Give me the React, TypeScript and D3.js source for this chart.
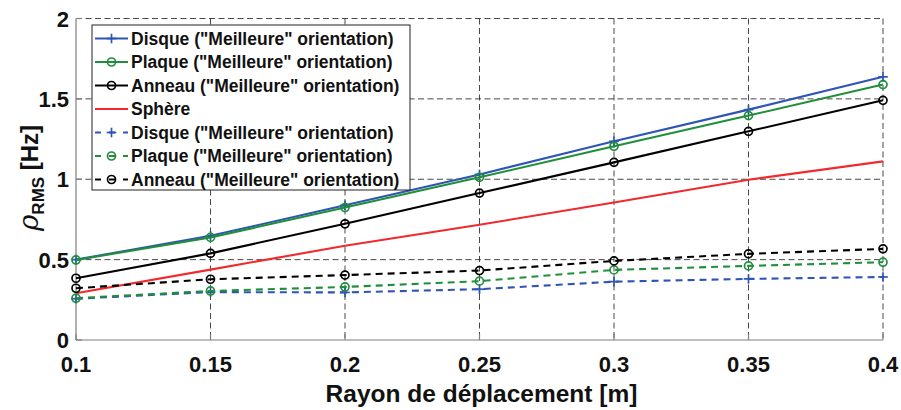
import React from "react";
import * as d3 from "d3";

const xValues = [0.1, 0.15, 0.2, 0.25, 0.3, 0.35, 0.4];
const disqueSolid = [0.5, 0.648, 0.838, 1.03, 1.236, 1.433, 1.637];
const plaqueSolid = [0.498, 0.638, 0.824, 1.012, 1.205, 1.396, 1.589];
const anneauSolid = [0.384, 0.539, 0.723, 0.914, 1.105, 1.298, 1.491];
const sphere = [0.291, 0.438, 0.586, 0.717, 0.855, 0.997, 1.111];
const disqueDashed = [0.257, 0.298, 0.296, 0.316, 0.363, 0.38, 0.392];
const plaqueDashed = [0.26, 0.305, 0.33, 0.366, 0.436, 0.461, 0.484];
const anneauDashed = [0.322, 0.378, 0.404, 0.432, 0.492, 0.536, 0.567];

const xTicks = [0.1, 0.15, 0.2, 0.25, 0.3, 0.35, 0.4];
const yTicks = [0, 0.5, 1, 1.5, 2];

const BLUE = "#2f55b4";
const GREEN = "#1f8f3a";
const RED = "#f02a2d";
const BLACK = "#000000";

type Series = { name: string; values: number[]; color: string; dashed: boolean; marker: "plus" | "circle" | "none" };

const series: Series[] = [
  { name: 'Disque ("Meilleure" orientation)', values: disqueSolid, color: BLUE, dashed: false, marker: "plus" },
  { name: 'Plaque ("Meilleure" orientation)', values: plaqueSolid, color: GREEN, dashed: false, marker: "circle" },
  { name: 'Anneau ("Meilleure" orientation)', values: anneauSolid, color: BLACK, dashed: false, marker: "circle" },
  { name: "Sphère", values: sphere, color: RED, dashed: false, marker: "none" },
  { name: 'Disque ("Meilleure" orientation)', values: disqueDashed, color: BLUE, dashed: true, marker: "plus" },
  { name: 'Plaque ("Meilleure" orientation)', values: plaqueDashed, color: GREEN, dashed: true, marker: "circle" },
  { name: 'Anneau ("Meilleure" orientation)', values: anneauDashed, color: BLACK, dashed: true, marker: "circle" },
];

const W = 901;
const H = 410;
const L = 76, R = 883, T = 18.5, B = 340;

function Marker({ type, x, y, color }: { type: string; x: number; y: number; color: string }) {
  if (type === "plus") {
    return (
      <g stroke={color} strokeWidth={1.7}>
        <line x1={x - 4.8} x2={x + 4.8} y1={y} y2={y} />
        <line x1={x} x2={x} y1={y - 4.8} y2={y + 4.8} />
      </g>
    );
  }
  if (type === "circle") {
    return <circle cx={x} cy={y} r={4} fill="none" stroke={color} strokeWidth={1.7} />;
  }
  return null;
}

export default function App() {
  const x = d3.scaleLinear().domain([0.1, 0.4]).range([L, R]);
  const y = d3.scaleLinear().domain([0, 2]).range([B, T]);
  const line = d3
    .line<number>()
    .x((_, i) => x(xValues[i]))
    .y((d) => y(d));
  const font = "Arial, 'Liberation Sans', sans-serif";
  const legX = 92, legY = 25, legW = 318, legH = 165, legStep = 23.5;

  return (
    <svg width={W} height={H} style={{ position: "absolute", left: 0, top: 0 }} fontFamily={font}>
      <rect width={W} height={H} fill="#fff" />
      {/* grid */}
      <g stroke="#333" strokeWidth={0.9} strokeDasharray="6,3.5">
        {xTicks.slice(1).map((t) => (
          <line key={"gx" + t} x1={x(t)} x2={x(t)} y1={T} y2={B} />
        ))}
        {yTicks.slice(1).map((t) => (
          <line key={"gy" + t} x1={L} x2={R} y1={y(t)} y2={y(t)} />
        ))}
      </g>
      {/* axes */}
      <g stroke="#7f7f7f" strokeWidth={1.2}>
        <line x1={L} x2={L} y1={T} y2={B} />
        <line x1={L} x2={R} y1={B} y2={B} />
        {xTicks.map((t) => (
          <line key={"tx" + t} x1={x(t)} x2={x(t)} y1={B} y2={B - 6} />
        ))}
        {yTicks.map((t) => (
          <line key={"ty" + t} x1={L} x2={L + 6} y1={y(t)} y2={y(t)} />
        ))}
      </g>
      {/* tick labels */}
      <g fontSize={22} fontWeight="bold" fill="#111">
        {xTicks.map((t) => (
          <text key={"lx" + t} x={x(t)} y={372} textAnchor="middle">
            {String(t)}
          </text>
        ))}
        {yTicks.map((t) => (
          <text key={"ly" + t} x={L - 7} y={y(t) + 8} textAnchor="end">
            {String(t)}
          </text>
        ))}
      </g>
      {/* series */}
      {series.map((s, si) => (
        <g key={"s" + si}>
          <path
            d={line(s.values) || ""}
            fill="none"
            stroke={s.color}
            strokeWidth={2.1}
            strokeDasharray={s.dashed ? "7,5" : undefined}
          />
          {s.values.map((v, i) => (
            <Marker key={i} type={s.marker} x={x(xValues[i])} y={y(v)} color={s.color} />
          ))}
        </g>
      ))}
      {/* axis labels */}
      <text x={(L + R) / 2 + 2} y={402} textAnchor="middle" fontSize={24.5} fontWeight="bold" fill="#111">
        Rayon de déplacement [m]
      </text>
      <text transform="translate(38,178) rotate(-90)" textAnchor="middle" fontSize={24} fontWeight="bold" fill="#111">
        <tspan fontStyle="italic" fontWeight="normal" fontSize={28} fontFamily="'DejaVu Serif', serif">ρ</tspan>
        <tspan fontSize={17} dy={6}>RMS</tspan>
        <tspan dy={-6}> [Hz]</tspan>
      </text>
      {/* legend */}
      <rect x={legX} y={legY} width={legW} height={legH} fill="#fff" stroke="#222" strokeWidth={1} />
      {series.map((s, i) => {
        const cy = 38.5 + i * legStep;
        const x1 = 95, x2 = 128;
        return (
          <g key={"lg" + i}>
            <line
              x1={x1}
              x2={x2}
              y1={cy}
              y2={cy}
              stroke={s.color}
              strokeWidth={2}
              strokeDasharray={s.dashed ? "6,8" : undefined}
            />
            <Marker type={s.marker} x={(x1 + x2) / 2} y={cy} color={s.color} />
            <text x={131} y={cy + 6.2} fontSize={17.5} fontWeight="bold" fill="#111">
              {s.name}
            </text>
          </g>
        );
      })}
    </svg>
  );
}
